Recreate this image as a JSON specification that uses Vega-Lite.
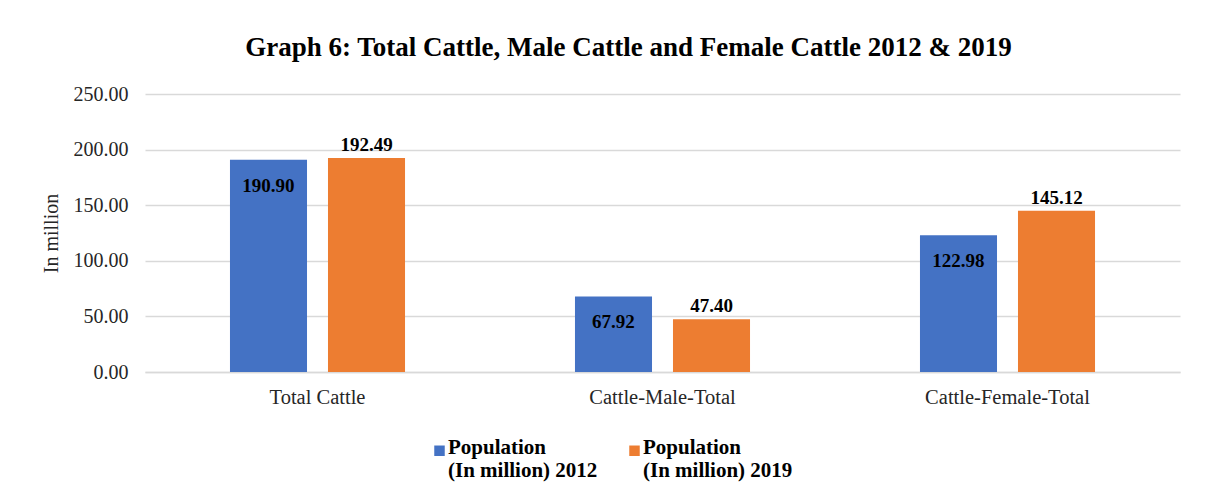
{
  "$schema": "https://vega.github.io/schema/vega-lite/v6.json",
  "autosize": "none",
  "width": 1035,
  "height": 278,
  "padding": {"left": 145, "top": 94, "right": 33, "bottom": 129},
  "background": "white",
  "config": {
    "view": {"stroke": null},
    "font": "Liberation Serif"
  },
  "title": {
    "text": "Graph 6: Total Cattle, Male Cattle and Female Cattle 2012 & 2019",
    "font": "Liberation Serif",
    "fontSize": 27,
    "fontWeight": "bold",
    "color": "#000000",
    "anchor": "middle",
    "dx": -34,
    "offset": 22
  },
  "data": {
    "values": [
      {"category": "Total Cattle", "year": "2012", "value": 190.90},
      {"category": "Total Cattle", "year": "2019", "value": 192.49},
      {"category": "Cattle-Male-Total", "year": "2012", "value": 67.92},
      {"category": "Cattle-Male-Total", "year": "2019", "value": 47.40},
      {"category": "Cattle-Female-Total", "year": "2012", "value": 122.98},
      {"category": "Cattle-Female-Total", "year": "2019", "value": 145.12}
    ]
  },
  "encoding": {
    "x": {
      "field": "category",
      "type": "nominal",
      "sort": ["Total Cattle", "Cattle-Male-Total", "Cattle-Female-Total"],
      "scale": {"paddingInner": 0, "paddingOuter": 0},
      "axis": {
        "title": null,
        "labelAngle": 0,
        "labelFont": "Liberation Serif",
        "labelFontSize": 20.5,
        "labelColor": "#262626",
        "labelPadding": 15,
        "ticks": false,
        "domain": true,
        "domainColor": "#d9d9d9",
        "domainWidth": 1.5
      }
    },
    "xOffset": {
      "field": "year",
      "type": "nominal",
      "scale": {"paddingInner": 0.214, "paddingOuter": 0.867}
    },
    "y": {
      "field": "value",
      "type": "quantitative",
      "scale": {"domain": [0, 250]},
      "axis": {
        "title": "In million",
        "titleFont": "Liberation Serif",
        "titleFontSize": 20,
        "titleFontWeight": "normal",
        "titleColor": "#262626",
        "titlePadding": 12,
        "values": [0, 50, 100, 150, 200, 250],
        "format": ".2f",
        "labelFont": "Liberation Serif",
        "labelFontSize": 20,
        "labelColor": "#262626",
        "labelPadding": 17,
        "ticks": false,
        "domain": false,
        "gridColor": "#d9d9d9",
        "gridWidth": 1.5
      }
    }
  },
  "layer": [
    {
      "mark": {"type": "bar"},
      "encoding": {
        "color": {
          "field": "year",
          "type": "nominal",
          "scale": {"domain": ["2012", "2019"], "range": ["#4472C4", "#ED7D31"]},
          "legend": {
            "orient": "none",
            "legendX": 284,
            "legendY": 346,
            "direction": "horizontal",
            "title": null,
            "symbolType": "square",
            "symbolSize": 110,
            "symbolStrokeWidth": 0,
            "labelFont": "Liberation Serif",
            "labelFontSize": 21,
            "labelFontWeight": "bold",
            "labelColor": "#000000",
            "labelOffset": -2,
            "labelLimit": 300,
            "labelBaseline": "top",
            "columnPadding": 26,
            "padding": 0,
            "labelExpr": "['Population', '\u00a0(In million) ' + datum.label]",
            "encode": {"labels": {"update": {"dy": {"value": -14}}}}
          }
        }
      }
    },
    {
      "transform": [{"filter": "datum.year == '2012'"}],
      "mark": {"type": "text", "baseline": "middle", "dy": 26, "font": "Liberation Serif", "fontSize": 19, "fontWeight": "bold", "color": "#000000"},
      "encoding": {
        "text": {"field": "value", "type": "quantitative", "format": ".2f"}
      }
    },
    {
      "transform": [{"filter": "datum.year == '2019'"}],
      "mark": {"type": "text", "baseline": "bottom", "dy": -3, "font": "Liberation Serif", "fontSize": 19, "fontWeight": "bold", "color": "#000000"},
      "encoding": {
        "text": {"field": "value", "type": "quantitative", "format": ".2f"}
      }
    }
  ]
}
